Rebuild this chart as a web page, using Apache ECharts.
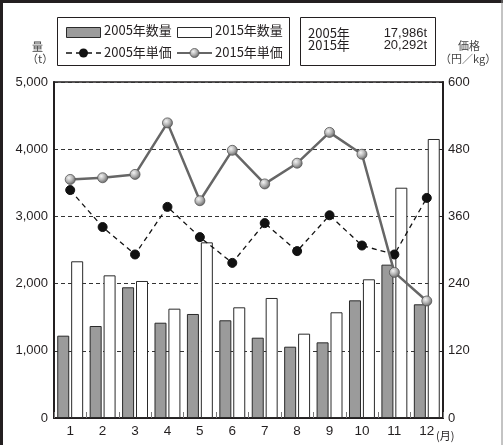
<!DOCTYPE html>
<html>
<head>
<meta charset="utf-8">
<script src="https://cdn.jsdelivr.net/npm/echarts@6/dist/echarts.min.js"></script>
<style>
  html, body { margin: 0; padding: 0; background: #fff; }
  #chart { width: 503px; height: 445px; }
</style>
</head>
<body>
<div id="chart"></div>
<script>
// Monthly volume (t) and unit price (円/kg), 2005 vs 2015
const months = ['1', '2', '3', '4', '5', '6', '7', '8', '9', '10', '11', '12'];
const qty2005 = [1225, 1369, 1945, 1418, 1548, 1454, 1195, 1061, 1126, 1751, 2282, 1692];
const qty2015 = [2332, 2123, 2039, 1627, 2614, 1647, 1786, 1255, 1573, 2064, 3427, 4152];
const price2005 = [407, 341, 292, 377, 323, 277, 348, 298, 362, 308, 292, 393];
const price2015 = [426, 429, 435, 527, 388, 478, 418, 455, 510, 471, 260, 209];
const leftTicks = { min: 0, max: 5000, step: 1000 };
const rightTicks = { min: 0, max: 600, step: 120 };
const totals = [['2005年', '17,986t'], ['2015年', '20,292t']];

const FONT = '"Liberation Sans", Arial, "Noto Sans CJK JP", sans-serif';
const JP = '"Noto Sans CJK JP", "Liberation Sans", sans-serif';
const INK = '#231f20';

const sphere = {
  type: 'radial', x: 0.38, y: 0.35, r: 0.75,
  colorStops: [
    { offset: 0, color: '#f4f4f4' },
    { offset: 0.45, color: '#b4b4b4' },
    { offset: 1, color: '#4e4e4e' }
  ]
};

const chart = echarts.init(document.getElementById('chart'));

const legendText = (x, y, t) => ({
  type: 'text', left: x, top: y,
  style: { text: t, font: '13px ' + JP, fill: INK }
});

chart.setOption({
  animation: false,
  backgroundColor: '#fff',
  grid: {
    left: 54, right: 60, top: 82, bottom: 27,
    show: true, borderColor: INK, borderWidth: 1.5, backgroundColor: 'transparent'
  },
  xAxis: {
    type: 'category',
    data: months,
    axisLine: { lineStyle: { color: INK, width: 2 } },
    axisTick: { show: true, inside: true, length: 6, lineStyle: { color: '#777', width: 1 } },
    axisLabel: { color: INK, fontFamily: FONT, fontSize: 13.5, margin: 7 }
  },
  yAxis: [
    {
      type: 'value', min: leftTicks.min, max: leftTicks.max, interval: leftTicks.step,
      axisLine: { show: true, lineStyle: { color: INK, width: 2 } },
      axisTick: { show: false },
      axisLabel: {
        color: INK, fontFamily: FONT, fontSize: 13, margin: 6,
        formatter: v => v.toLocaleString('en-US')
      },
      splitLine: { show: true, lineStyle: { color: '#333', type: [4, 3], width: 1 } }
    },
    {
      type: 'value', min: rightTicks.min, max: rightTicks.max, interval: rightTicks.step,
      position: 'right',
      axisLine: { show: true, lineStyle: { color: INK, width: 2 } },
      axisTick: { show: true, inside: true, length: 4, lineStyle: { color: INK } },
      axisLabel: { color: INK, fontFamily: FONT, fontSize: 13, margin: 5 },
      splitLine: { show: false }
    }
  ],
  series: [
    {
      name: '2005年数量', type: 'bar', data: qty2005, yAxisIndex: 0,
      barWidth: 12, barGap: '16%',
      itemStyle: { color: '#9b9b9b', borderColor: '#2a2a2a', borderWidth: 1 }
    },
    {
      name: '2015年数量', type: 'bar', data: qty2015, yAxisIndex: 0,
      barWidth: 12,
      itemStyle: { color: '#ffffff', borderColor: '#2a2a2a', borderWidth: 1 }
    },
    {
      name: '2005年単価', type: 'line', data: price2005, yAxisIndex: 1, z: 5,
      symbol: 'circle', symbolSize: 9,
      lineStyle: { color: '#111', width: 1.3, type: [5, 4] },
      itemStyle: { color: '#111', borderColor: '#111' }
    },
    {
      name: '2015年単価', type: 'line', data: price2015, yAxisIndex: 1, z: 6,
      symbol: 'circle', symbolSize: 10,
      lineStyle: { color: '#666', width: 2.5 },
      itemStyle: { color: sphere, borderColor: '#555', borderWidth: 0.8 }
    }
  ],
  graphic: [
    // page frame
    { type: 'line', shape: { x1: 0, y1: 1.5, x2: 503, y2: 1.5 }, style: { stroke: INK, lineWidth: 3 } },
    { type: 'line', shape: { x1: 1.5, y1: 0, x2: 1.5, y2: 445 }, style: { stroke: INK, lineWidth: 3 } },
    { type: 'line', shape: { x1: 502, y1: 0, x2: 502, y2: 445 }, style: { stroke: '#888', lineWidth: 1 } },
    // axis titles
    { type: 'text', left: 32, top: 41, style: { text: '量', font: '11px ' + JP, fill: '#444' } },
    { type: 'text', left: 27, top: 53, style: { text: '（t）', font: '11px ' + JP, fill: '#444' } },
    { type: 'text', left: 458, top: 40, style: { text: '価格', font: '11px ' + JP, fill: '#444' } },
    { type: 'text', left: 440, top: 53, style: { text: '（円／kg）', font: '11px ' + JP, fill: '#444' } },
    { type: 'text', left: 436, top: 430, style: { text: '(月)', font: '11px ' + JP, fill: INK } },
    // legend box
    { type: 'rect', shape: { x: 57.5, y: 17.5, width: 232, height: 48 }, style: { fill: '#fff', stroke: INK, lineWidth: 1 } },
    { type: 'rect', shape: { x: 66.5, y: 27.5, width: 34, height: 10 }, style: { fill: '#9b9b9b', stroke: '#2a2a2a', lineWidth: 1 } },
    legendText(104, 24, '2005年数量'),
    { type: 'rect', shape: { x: 177.5, y: 27.5, width: 34, height: 10 }, style: { fill: '#fff', stroke: '#2a2a2a', lineWidth: 1 } },
    legendText(215, 24, '2015年数量'),
    { type: 'line', shape: { x1: 66, y1: 53, x2: 101, y2: 53 }, style: { stroke: '#111', lineWidth: 1.5, lineDash: [6, 4] } },
    { type: 'circle', shape: { cx: 83.5, cy: 53, r: 4.5 }, style: { fill: '#111' } },
    legendText(104, 46, '2005年単価'),
    { type: 'line', shape: { x1: 177, y1: 53, x2: 212, y2: 53 }, style: { stroke: '#666', lineWidth: 2 } },
    { type: 'circle', shape: { cx: 194.5, cy: 53, r: 4.5 }, style: { fill: sphere, stroke: '#555', lineWidth: 0.8 } },
    legendText(215, 46, '2015年単価'),
    // totals box
    { type: 'rect', shape: { x: 300.5, y: 17.5, width: 135, height: 48 }, style: { fill: '#fff', stroke: INK, lineWidth: 1 } },
    { type: 'text', left: 308, top: 27, style: { text: totals[0][0], font: '13px ' + JP, fill: INK } },
    { type: 'text', right: 503 - 427, top: 27, style: { text: totals[0][1], font: '13px ' + FONT, fill: INK } },
    { type: 'text', left: 308, top: 39, style: { text: totals[1][0], font: '13px ' + JP, fill: INK } },
    { type: 'text', right: 503 - 427, top: 39, style: { text: totals[1][1], font: '13px ' + FONT, fill: INK } }
  ]
});
</script>
</body>
</html>
